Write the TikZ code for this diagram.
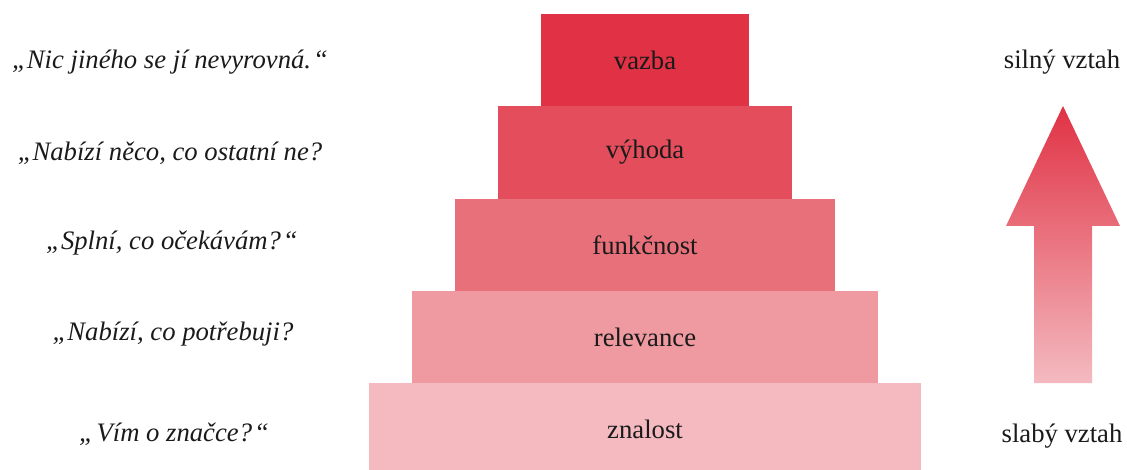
\documentclass[tikz,border=0pt]{standalone}
\usepackage{fontspec}
\setmainfont{Liberation Serif}
\definecolor{cA}{HTML}{E03244}
\definecolor{cB}{HTML}{E34D5C}
\definecolor{cC}{HTML}{E8707A}
\definecolor{cD}{HTML}{EE9AA0}
\definecolor{cE}{HTML}{F4BAC0}
\definecolor{txt}{HTML}{1A1A1A}
\begin{document}
\begin{tikzpicture}[x=0.75pt,y=-0.75pt,
  level/.style={draw=none,inner sep=0pt,minimum height=69.3pt,text=txt,
    font=\fontsize{20}{24}\selectfont},
  quote/.style={inner sep=0pt,text=txt,font=\fontsize{20}{24}\selectfont\itshape},
  side/.style={inner sep=0pt,text=txt,font=\fontsize{20}{24}\selectfont}]
\useasboundingbox (0,0) rectangle (1127,470);
\clip (0,0) rectangle (1127,470);
\node[level,fill=cA,minimum width=156pt] (vazba) at (645,60.2) {vazba};
\node[level,fill=cB,minimum width=220.5pt] (vyhoda) at (645,152.5) {výhoda};
\node[level,fill=cC,minimum width=285pt] (funk) at (645,244.8) {funkčnost};
\node[level,fill=cD,minimum width=349.5pt] (rel) at (645,337.1) {relevance};
\node[level,fill=cE,minimum width=414pt] (zn) at (645,429.4) {znalost};

\node[quote] (q1) at (170,62) {„Nic jiného se jí nevyrovná.\kern1.5pt“};
\node[quote] (q2) at (170,153) {„Nabízí něco, co ostatní ne?};
\node[quote] (q3) at (172,243) {„Splní, co očekávám?\kern1.5pt“};
\node[quote] (q4) at (173,334) {„Nabízí, co potřebuji?};
\node[quote] (q5) at (174,434) {„\kern2pt Vím o značce?\kern1.5pt“};

\node[side] (strong) at (1062,62) {silný vztah};
\node[side] (weak) at (1062,436) {slabý vztah};

\shade[top color=cA,bottom color=cE]
  (1063,106) -- (1120,226) -- (1092,226) -- (1092,383) -- (1034,383)
  -- (1034,226) -- (1006,226) -- cycle;
\end{tikzpicture}
\end{document}
